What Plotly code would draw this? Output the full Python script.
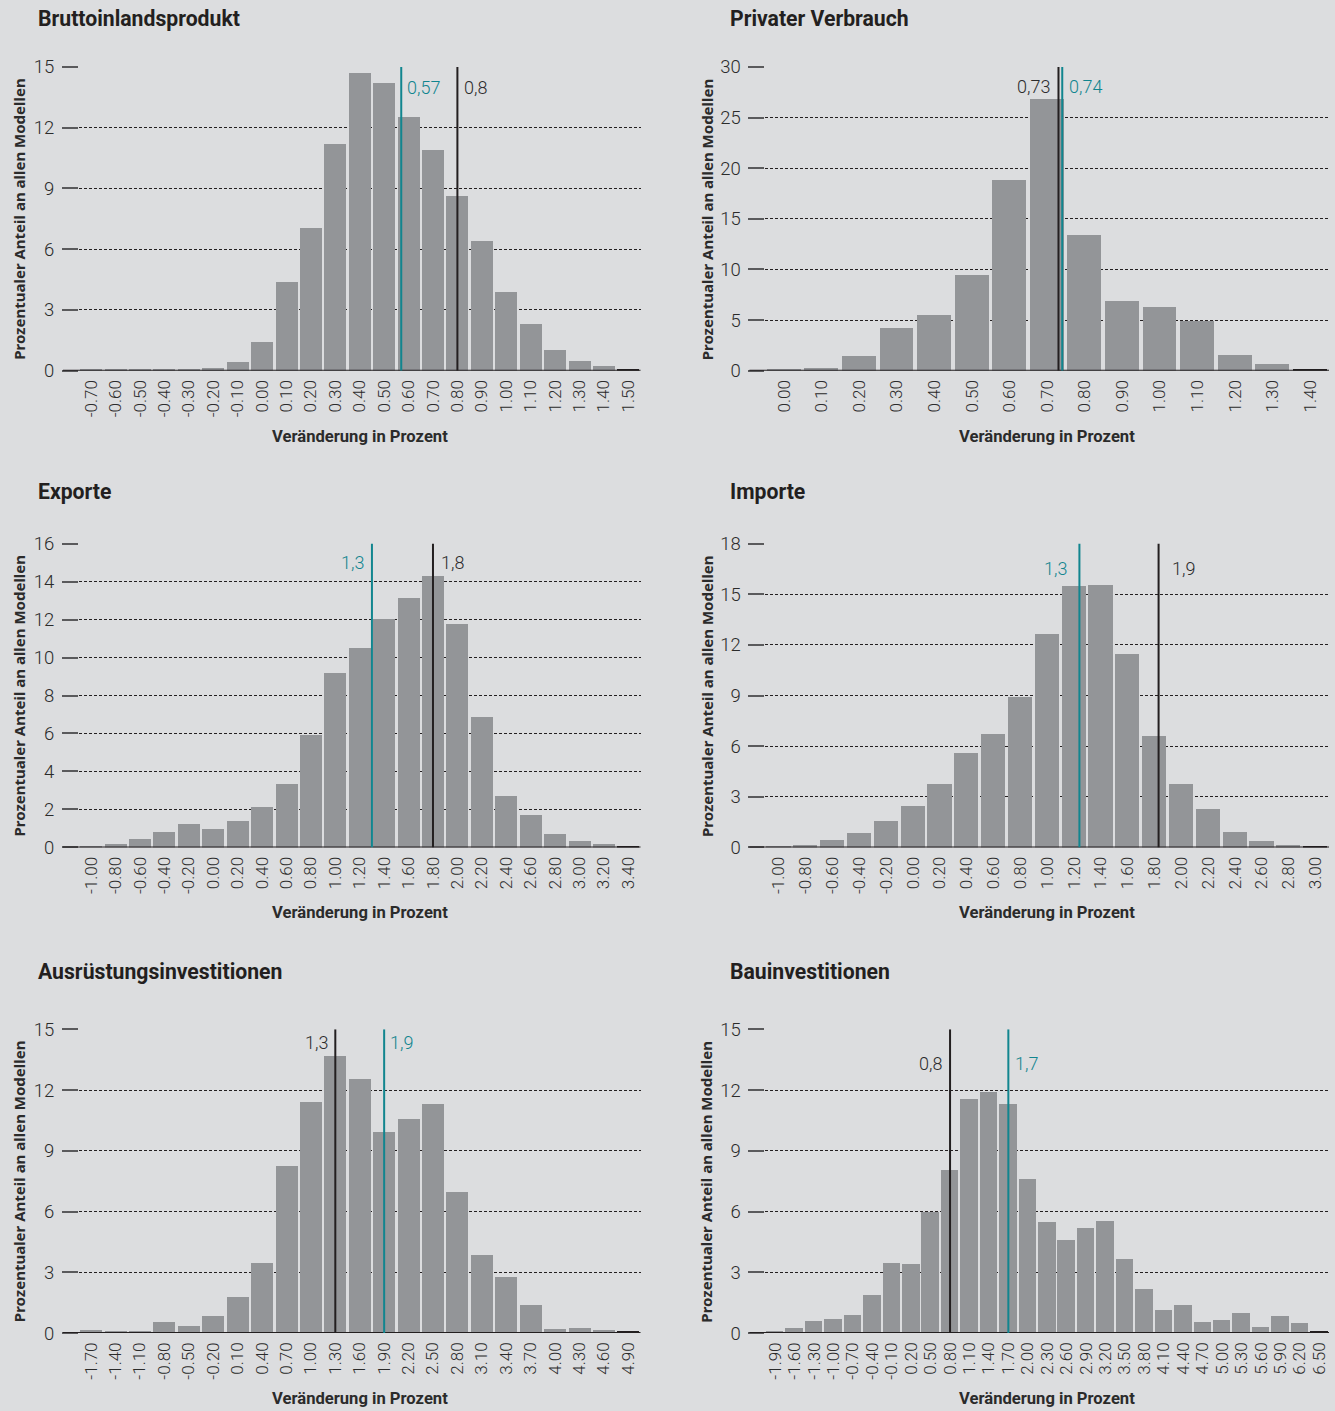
import plotly.graph_objects as go

# ---------------- DATA ----------------
bip_bins = [-0.7, -0.6, -0.5, -0.4, -0.3, -0.2, -0.1, 0.0, 0.1, 0.2, 0.3, 0.4,
            0.5, 0.6, 0.7, 0.8, 0.9, 1.0, 1.1, 1.2, 1.3, 1.4, 1.5]
bip_share = [0.08, 0.07, 0.08, 0.08, 0.08, 0.13, 0.44, 1.43, 4.38, 7.04, 11.18, 14.69,
             14.19, 12.52, 10.89, 8.62, 6.40, 3.88, 2.32, 1.02, 0.49, 0.25, 0.10]
bip_teal, bip_teal_label = 0.57, "0,57"
bip_black, bip_black_label = 0.8, "0,8"

pv_bins = [0.0, 0.1, 0.2, 0.3, 0.4, 0.5, 0.6, 0.7, 0.8, 0.9, 1.0, 1.1, 1.2, 1.3, 1.4]
pv_share = [0.16, 0.26, 1.45, 4.21, 5.49, 9.44, 18.82, 26.81, 13.39, 6.88, 6.28, 4.93,
            1.55, 0.66, 0.20]
pv_teal, pv_teal_label = 0.74, "0,74"
pv_black, pv_black_label = 0.73, "0,73"

exp_bins = [-1.0, -0.8, -0.6, -0.4, -0.2, 0.0, 0.2, 0.4, 0.6, 0.8, 1.0, 1.2, 1.4, 1.6,
            1.8, 2.0, 2.2, 2.4, 2.6, 2.8, 3.0, 3.2, 3.4]
exp_share = [0.10, 0.21, 0.47, 0.84, 1.26, 1.00, 1.42, 2.15, 3.36, 5.95, 9.19, 10.50,
             12.03, 13.13, 14.34, 11.77, 6.88, 2.73, 1.73, 0.74, 0.37, 0.21, 0.10]
exp_teal, exp_teal_label = 1.3, "1,3"
exp_black, exp_black_label = 1.8, "1,8"

imp_bins = [-1.0, -0.8, -0.6, -0.4, -0.2, 0.0, 0.2, 0.4, 0.6, 0.8, 1.0, 1.2, 1.4, 1.6,
            1.8, 2.0, 2.2, 2.4, 2.6, 2.8, 3.0]
imp_share = [0.12, 0.18, 0.47, 0.89, 1.60, 2.48, 3.78, 5.61, 6.73, 8.92, 12.64, 15.54,
             15.60, 11.46, 6.62, 3.78, 2.30, 0.95, 0.41, 0.18, 0.12]
imp_teal, imp_teal_label = 1.24, "1,3"
imp_black, imp_black_label = 1.83, "1,9"

aus_bins = [-1.7, -1.4, -1.1, -0.8, -0.5, -0.2, 0.1, 0.4, 0.7, 1.0, 1.3, 1.6, 1.9, 2.2,
            2.5, 2.8, 3.1, 3.4, 3.7, 4.0, 4.3, 4.6, 4.9]
aus_share = [0.15, 0.10, 0.08, 0.54, 0.34, 0.84, 1.77, 3.45, 8.22, 11.42, 13.69, 12.51,
             9.90, 10.54, 11.28, 6.94, 3.84, 2.76, 1.38, 0.20, 0.25, 0.15, 0.10]
aus_teal, aus_teal_label = 1.9, "1,9"
aus_black, aus_black_label = 1.3, "1,3"

bau_bins = [-1.9, -1.6, -1.3, -1.0, -0.7, -0.4, -0.1, 0.2, 0.5, 0.8, 1.1, 1.4, 1.7, 2.0,
            2.3, 2.6, 2.9, 3.2, 3.5, 3.8, 4.1, 4.4, 4.7, 5.0, 5.3, 5.6, 5.9, 6.2, 6.5]
bau_share = [0.10, 0.25, 0.59, 0.69, 0.89, 1.87, 3.45, 3.40, 5.96, 8.03, 11.52, 11.87,
             11.32, 7.58, 5.47, 4.58, 5.17, 5.51, 3.64, 2.17, 1.13, 1.38, 0.54, 0.64,
             0.98, 0.30, 0.84, 0.49, 0.10]
bau_teal, bau_teal_label = 1.7, "1,7"
bau_black, bau_black_label = 0.8, "0,8"

titles = ["Bruttoinlandsprodukt", "Privater Verbrauch", "Exporte", "Importe",
          "Ausrüstungsinvestitionen", "Bauinvestitionen"]
y_title = "Prozentualer Anteil an allen Modellen"
x_title = "Veränderung in Prozent"

# ---------------- STYLE / LAYOUT ----------------
W, H = 1335, 1411
BG = "#dcdddf"
BAR = "#939598"
DARK = "#231f20"
TEAL = "#11858f"
TXT = "#2b2b2b"
NARROW = "Roboto, Liberation Sans, sans-serif"
WIDEB = "Noto Sans, Open Sans, sans-serif"

# vertical placement calibration (pixel from top -> paper y)
V_OFF, V_SPAN = 11.0, 1390.0


def fx(p):
    return p / W


def fy(p):
    return 1 - (p - V_OFF) / V_SPAN


cols = {0: (78, 640), 1: (765, 1329)}
rows = {0: (67, 371), 1: (544, 848), 2: (1030, 1334)}
title_py = {0: 19, 1: 492, 2: 972}
xtitle_py = {0: 437, 1: 913, 2: 1399}
title_px = {0: 35, 1: 728}
ytitle_px = {0: 18, 1: 706}

panels = [
    dict(bins=bip_bins, share=bip_share, ymax=15, dtick=3, step=0.1,
         teal=(bip_teal, bip_teal_label, "right", 4), black=(bip_black, bip_black_label, "right", 5), label_y=14.0),
    dict(bins=pv_bins, share=pv_share, ymax=30, dtick=5, step=0.1,
         teal=(pv_teal, pv_teal_label, "right", 5), black=(pv_black, pv_black_label, "left", 6), label_y=28.1),
    dict(bins=exp_bins, share=exp_share, ymax=16, dtick=2, step=0.2,
         teal=(exp_teal, exp_teal_label, "left", 6), black=(exp_black, exp_black_label, "right", 6), label_y=15.0),
    dict(bins=imp_bins, share=imp_share, ymax=18, dtick=3, step=0.2,
         teal=(imp_teal, imp_teal_label, "left", 10), black=(imp_black, imp_black_label, "right", 11), label_y=16.5),
    dict(bins=aus_bins, share=aus_share, ymax=15, dtick=3, step=0.3,
         teal=(aus_teal, aus_teal_label, "right", 4), black=(aus_black, aus_black_label, "left", 5), label_y=14.35),
    dict(bins=bau_bins, share=bau_share, ymax=15, dtick=3, step=0.3,
         teal=(bau_teal, bau_teal_label, "right", 5), black=(bau_black, bau_black_label, "left", 6), label_y=13.3),
]

fig = go.Figure()
layout = dict(width=W, height=H, autosize=False, margin=dict(l=0, r=0, t=0, b=0),
              paper_bgcolor=BG, plot_bgcolor=BG, showlegend=False, bargap=0)
shapes, annotations = [], []

for i, p in enumerate(panels):
    n = i + 1
    r, c = divmod(i, 2)
    xa = "x" if n == 1 else f"x{n}"
    ya = "y" if n == 1 else f"y{n}"
    xl, xr = cols[c]
    yt, yb = rows[r]
    bins, share, step = p["bins"], p["share"], p["step"]
    colors = [BAR] * (len(bins) - 1) + [DARK]
    fig.add_trace(go.Bar(x=bins, y=share, width=0.9 * step, marker=dict(color=colors, line=dict(width=0)),
                         xaxis=xa, yaxis=ya, hoverinfo="x+y"))
    layout["xaxis" if n == 1 else f"xaxis{n}"] = dict(
        domain=[fx(xl), fx(xr)], anchor=ya,
        range=[bins[0] - step / 2, bins[-1] + step / 2],
        tickmode="array", tickvals=bins, ticktext=[f"{v:.2f}" for v in bins],
        tickangle=-90, ticks="", showgrid=False, zeroline=False, showline=False,
        tickfont=dict(family=NARROW, size=17, color=TXT, weight=300), ticklabelstandoff=5)
    layout["yaxis" if n == 1 else f"yaxis{n}"] = dict(
        domain=[fy(yb), fy(yt)], anchor=xa,
        range=[0, p["ymax"]], tick0=0, dtick=p["dtick"],
        showgrid=True, gridcolor=DARK, gridwidth=1, griddash="3px,2px",
        ticks="outside", ticklen=16, tickwidth=2, tickcolor="#5a5a5c",
        zeroline=False, showline=False, ticklabelstandoff=4,
        tickfont=dict(family=NARROW, size=18.5, color=TXT, weight=300))
    # baseline
    shapes.append(dict(type="line", xref=f"{xa} domain", yref=ya,
                       x0=-16 / (xr - xl), x1=1, y0=0, y1=0,
                       line=dict(color=DARK, width=2), layer="above"))
    # reference lines + labels
    for key, col in (("black", DARK), ("teal", TEAL)):
        pos, lab, side, gap = p[key]
        shapes.append(dict(type="line", xref=xa, yref=ya, x0=pos, x1=pos, y0=0, y1=p["ymax"],
                           line=dict(color=col, width=2), layer="above"))
        annotations.append(dict(xref=xa, yref=ya, x=pos, y=p["label_y"], text=lab, showarrow=False,
                                xanchor="left" if side == "right" else "right",
                                xshift=gap if side == "right" else -gap, yanchor="middle",
                                font=dict(family=NARROW, size=18, weight=300,
                                          color=col if key == "teal" else TXT)))
    # panel title
    annotations.append(dict(xref="paper", yref="paper", x=fx(title_px[c]), y=fy(title_py[r]),
                            text=titles[i], showarrow=False, xanchor="left", yanchor="middle",
                            font=dict(family=NARROW, size=21.2, color=DARK, weight=700)))
    # y title
    annotations.append(dict(xref="paper", yref="paper", x=fx(ytitle_px[c]), y=fy((yt + yb) / 2),
                            text=f"<b>{y_title}</b>", showarrow=False, textangle=-90,
                            xanchor="center", yanchor="middle",
                            font=dict(family=WIDEB, size=15, color=TXT)))
    # x title
    annotations.append(dict(xref="paper", yref="paper", x=fx((xl + xr) / 2), y=fy(xtitle_py[r]),
                            text=x_title, showarrow=False, xanchor="center", yanchor="middle",
                            font=dict(family=NARROW, size=16.6, color=TXT, weight=700)))

layout["shapes"] = shapes
layout["annotations"] = annotations
fig.update_layout(**layout)
fig.write_html(
    "out.html",
    config={"displayModeBar": False},
    post_script=("document.body.style.margin='0';"
                 "var d=document.getElementById('{plot_id}');"
                 "d.style.position='fixed';d.style.top='0px';d.style.left='0px';"),
)
